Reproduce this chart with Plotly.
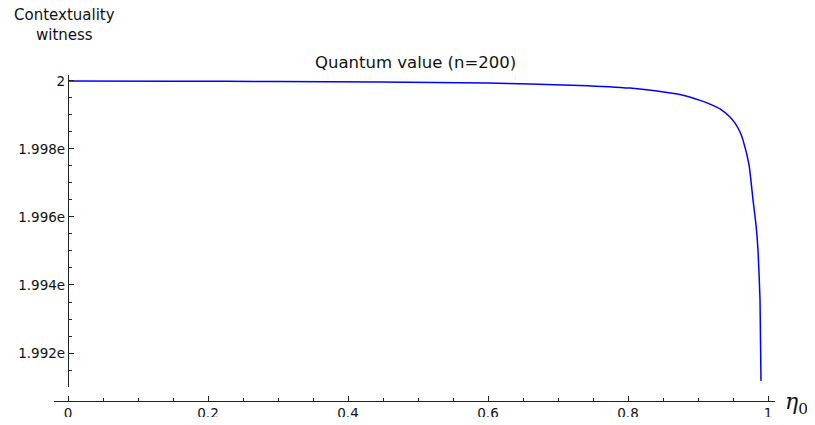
import plotly.graph_objects as go

# curve values
eta = [0.0, 0.15, 0.3, 0.4457, 0.6, 0.66, 0.731, 0.803, 0.839,
       0.874, 0.9029, 0.9171, 0.9314, 0.9457, 0.9529, 0.96, 0.9643, 0.9729,
       0.9786, 0.9829, 0.9857, 0.9886, 0.99]
witness = [2.0, 1.999995, 1.999985, 1.99997, 1.99994, 1.99991, 1.99987,
           1.99979, 1.99971, 1.99960, 1.99943, 1.99932, 1.99918,
           1.99894, 1.99876, 1.99850, 1.99826, 1.99753, 1.99650, 1.99576,
           1.99503, 1.99356, 1.99118]

x_ticks = [0, 0.2, 0.4, 0.6, 0.8, 1]
x_ticktext = ['0', '0.2', '0.4', '0.6', '0.8', '1']
y_ticks = [2.0, 1.998, 1.996, 1.994, 1.992]
y_ticktext = ['2', '1.998e', '1.996e', '1.994e', '1.992e']

# the page body has an 8px margin, so the figure is shrunk to fit the window
OFF = 8
W, H = 815 - 2 * OFF, 425 - 2 * OFF
ml, mr, mt, mb = 54 - OFF, W - (775 - OFF), 75 - OFF, H - (401 - OFF)
pw = W - ml - mr
ph = H - mt - mb


def px_x(p):
    # window pixel -> paper fraction
    return (p - OFF - ml) / pw


def px_y(p):
    return (H - mb - (p - OFF)) / ph


fig = go.Figure()
fig.add_trace(go.Scatter(x=eta, y=witness, mode='lines',
                         line=dict(color='#0000ff', width=1.5, shape='spline',
                                   smoothing=0.5),
                         hoverinfo='skip', showlegend=False))

axis_col = '#222222'
tick_font = dict(family='DejaVu Sans', size=13.5, color='#111111')

fig.update_layout(
    width=W, height=H,
    margin=dict(l=ml, r=mr, t=mt, b=mb, pad=0, autoexpand=False),
    paper_bgcolor='white', plot_bgcolor='white',
    xaxis=dict(range=[-0.02, 1.01], anchor='free', position=0,
               automargin=False,
               showgrid=False, zeroline=False,
               showline=True, linecolor=axis_col, linewidth=1.2,
               tickmode='array', tickvals=x_ticks, ticktext=x_ticktext,
               ticks='inside', ticklen=5, tickwidth=1, tickcolor=axis_col,
               tickfont=tick_font,
               minor=dict(tickmode='linear', tick0=0, dtick=0.05,
                          ticks='inside', ticklen=3, tickcolor=axis_col)),
    yaxis=dict(range=[1.991, 2.000176], domain=[14 / ph, 1],
               anchor='free', position=px_x(68), automargin=False,
               showgrid=False, zeroline=False,
               showline=True, linecolor=axis_col, linewidth=1.2,
               tickmode='array', tickvals=y_ticks, ticktext=y_ticktext,
               ticks='inside', ticklen=5, tickwidth=1, tickcolor=axis_col,
               tickfont=tick_font,
               minor=dict(tickmode='linear', tick0=2.0, dtick=0.0005,
                          ticks='inside', ticklen=3, tickcolor=axis_col)),
)

fig.add_annotation(text='Quantum value (n=200)', xref='paper', yref='paper',
                   x=px_x(415), y=px_y(62), xanchor='center', yanchor='middle',
                   showarrow=False,
                   font=dict(family='DejaVu Sans', size=16.5, color='#111111'))
label_font = dict(family='DejaVu Sans', size=15, color='#111111')
fig.add_annotation(text='Contextuality', xref='paper', yref='paper',
                   x=px_x(64), y=px_y(15), xanchor='center', yanchor='middle',
                   showarrow=False, font=label_font)
fig.add_annotation(text='witness', xref='paper', yref='paper',
                   x=px_x(64), y=px_y(35), xanchor='center', yanchor='middle',
                   showarrow=False, font=label_font)
fig.add_annotation(text='<i>η</i><sub>0</sub>', xref='paper', yref='paper',
                   x=px_x(783), y=px_y(403), xanchor='left', yanchor='middle',
                   showarrow=False,
                   font=dict(family='DejaVu Serif', size=22, color='#111111'))

fig.write_html("out.html")
